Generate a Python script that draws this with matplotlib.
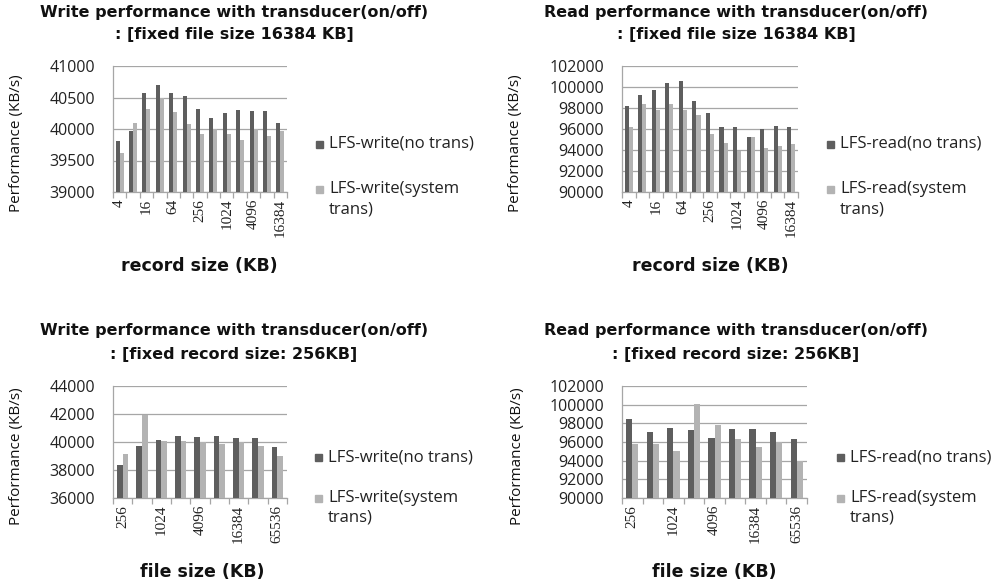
import matplotlib
matplotlib.use("Agg")
import matplotlib.pyplot as plt
import numpy as np
from matplotlib.patches import Rectangle

W, H = 1000, 586

# ---------------- data ----------------
record_sizes = ["4", "8", "16", "32", "64", "128", "256", "512", "1024", "2048", "4096", "8192", "16384"]
file_sizes = ["256", "512", "1024", "2048", "4096", "8192", "16384", "32768", "65536"]

write_rec_notrans = [39810, 39963, 40571, 40693, 40571, 40529, 40323, 40175, 40259, 40302, 40291, 40291, 40095]
write_rec_sys = [39624, 40095, 40323, 40497, 40275, 40079, 39926, 40000, 39915, 39831, 40000, 39884, 39968]

read_rec_notrans = [98159, 99270, 99683, 100349, 100540, 98667, 97492, 96222, 96222, 95238, 96000, 96317, 96222]
read_rec_sys = [96222, 98349, 97841, 98413, 97810, 97302, 95550, 94667, 93905, 95238, 94190, 94381, 94540]

write_file_notrans = [38381, 39690, 40167, 40429, 40357, 40429, 40286, 40286, 39643]
write_file_sys = [39143, 41952, 40095, 40071, 39976, 39833, 40000, 39714, 39024]

read_file_notrans = [98464, 97071, 97536, 97250, 96464, 97429, 97429, 97071, 96357]
read_file_sys = [95750, 95750, 95036, 100071, 97857, 96321, 95464, 95964, 93964]

DARK = "#5e5e5e"
LIGHT = "#b3b3b3"
GRID = "#a6a6a6"
BOLD_FONT = ["DejaVu Sans"]

plt.rcParams['font.family'] = ['Open Sans', 'DejaVu Sans']

fig = plt.figure(figsize=(W / 100, H / 100), dpi=100)


def fx(x):
    return x / W


def fy(y):
    return 1 - y / H


def panel(rect_px, cats, s1, s2, ylim, ystep, title1, title2, title_x, title_y,
          xlabel, xlabel_pos, ylabel_pos, leg_x, leg_y, leg_names):
    l, r, t, b = rect_px
    ax = fig.add_axes([fx(l), fy(b), (r - l) / W, (b - t) / H])
    n = len(cats)
    x = np.arange(n)
    bw = 0.3
    ax.bar(x - bw / 2, s1, width=bw, color=DARK, zorder=3)
    ax.bar(x + bw / 2, s2, width=bw, color=LIGHT, zorder=3)
    ax.set_xlim(-0.5, n - 0.5)
    ax.set_ylim(*ylim)
    ax.set_yticks(np.arange(ylim[0], ylim[1] + 1, ystep))
    ax.yaxis.grid(True, color=GRID, linewidth=0.9, zorder=0)
    ax.set_axisbelow(True)
    for s in ["top", "right"]:
        ax.spines[s].set_visible(False)
    for s in ["left", "bottom"]:
        ax.spines[s].set_color(GRID)
        ax.spines[s].set_linewidth(0.9)
    ax.tick_params(axis="y", length=0, pad=13, labelsize=11.5, labelcolor="#222222")
    # category boundaries as major ticks, labels as minor ticks
    ax.set_xticks(np.arange(n + 1) - 0.5)
    ax.set_xticklabels([])
    ax.tick_params(axis="x", which="major", length=4, color=GRID, width=0.9)
    ax.set_xticks(x[::2], minor=True)
    ax.set_xticklabels(cats[::2], minor=True, rotation=90, fontsize=11,
                       family="Liberation Serif", color="#222222")
    ax.tick_params(axis="x", which="minor", length=0, pad=5)
    # titles
    fig.text(fx(title_x), fy(title_y[0]), title1, ha="center", va="center",
             fontsize=11.5, fontweight="bold", family=BOLD_FONT, color="#111111")
    fig.text(fx(title_x), fy(title_y[1]), title2, ha="center", va="center",
             fontsize=11.5, fontweight="bold", family=BOLD_FONT, color="#111111")
    fig.text(fx(xlabel_pos[0]), fy(xlabel_pos[1]), xlabel, ha="center", va="center",
             fontsize=12.5, fontweight="bold", family=BOLD_FONT, color="#111111")
    fig.text(fx(ylabel_pos[0]), fy(ylabel_pos[1]), "Performance (KB/s)", ha="center",
             va="center", rotation=90, fontsize=11, color="#111111")
    # legend
    for (yy, txt, col) in [(leg_y[0], leg_names[0], DARK), (leg_y[1], leg_names[1], LIGHT)]:
        fig.patches.append(Rectangle((fx(leg_x), fy(yy + 4)), 7 / W, 7 / H,
                                     transform=fig.transFigure, color=col))
        fig.text(fx(leg_x + 13), fy(yy), txt, ha="left", va="center",
                 fontsize=12, color="#222222")
    fig.text(fx(leg_x + 13), fy(leg_y[1] + 20), "trans)", ha="left", va="center",
             fontsize=12, color="#222222")
    return ax


panel((113, 287, 66, 192), record_sizes, write_rec_notrans, write_rec_sys,
      (39000, 41000), 500,
      "Write performance with transducer(on/off)", ": [fixed file size 16384 KB]",
      234, (13, 35), "record size (KB)", (199, 266), (17, 143),
      316, (144, 189), ("LFS-write(no trans)", "LFS-write(system"))

panel((622, 798, 66, 192), record_sizes, read_rec_notrans, read_rec_sys,
      (90000, 102000), 2000,
      "Read performance with transducer(on/off)", ": [fixed file size 16384 KB]",
      736, (13, 35), "record size (KB)", (710, 266), (516, 143),
      827, (144, 189), ("LFS-read(no trans)", "LFS-read(system"))

panel((113, 287, 386, 498), file_sizes, write_file_notrans, write_file_sys,
      (36000, 44000), 2000,
      "Write performance with transducer(on/off)", ": [fixed record size: 256KB]",
      234, (331, 354), "file size (KB)", (202, 572), (17, 456),
      315, (457, 498), ("LFS-write(no trans)", "LFS-write(system"))

panel((622, 807, 386, 498), file_sizes, read_file_notrans, read_file_sys,
      (90000, 102000), 2000,
      "Read performance with transducer(on/off)", ": [fixed record size: 256KB]",
      736, (331, 354), "file size (KB)", (714, 572), (517, 456),
      837, (457, 498), ("LFS-read(no trans)", "LFS-read(system"))

fig.savefig("out.png", dpi=100, facecolor="white")
